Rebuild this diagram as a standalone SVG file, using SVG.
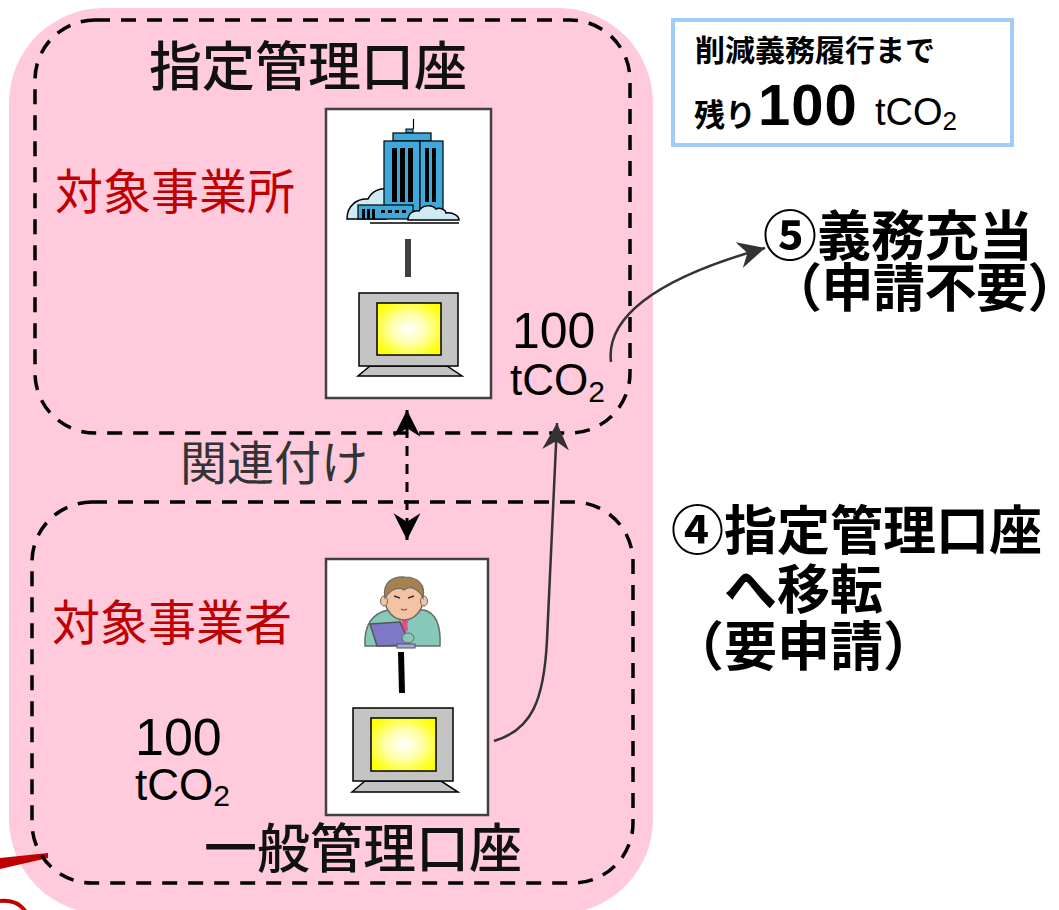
<svg xmlns="http://www.w3.org/2000/svg" width="1059" height="910" viewBox="0 0 1059 910">
  <style>
    .jp { font-family: "Noto Sans CJK JP", "Noto Sans", sans-serif; }
    .num { font-family: "Liberation Sans", Arial, sans-serif; }
    .title { font-size: 53px; fill: #111; font-weight: 500; }
    .red { font-size: 48px; fill: #c00000; }
    .bold { font-weight: 700; fill: #000; }
    .dashbox { fill: none; stroke: #000; stroke-width: 3.5; stroke-dasharray: 15 11; }
    .card { fill: #fff; stroke: #404040; stroke-width: 2.5; }
    .link { stroke-width: 6; }
    .flow { fill: none; stroke: #333; stroke-width: 2.5; }
    .assoc { fill: none; stroke: #000; stroke-width: 3; stroke-dasharray: 10 8; }
    .mon-frame { fill: #c4c4c4; stroke: #000; stroke-width: 1.5; }
    .mon-screen { fill: url(#screenGlow); stroke: #000; stroke-width: 1.5; }
  </style>
  <defs>
    <radialGradient id="screenGlow" cx="0.5" cy="0.5" r="0.6">
      <stop offset="0" stop-color="#ffffff"/>
      <stop offset="0.45" stop-color="#ffffb0"/>
      <stop offset="1" stop-color="#ffff00"/>
    </radialGradient>
    <marker id="headGray" markerUnits="userSpaceOnUse" markerWidth="30" markerHeight="30" viewBox="-26 -14 28 28" refX="0" refY="0" orient="auto">
      <path d="M0,0 L-25,-12.5 L-17,0 L-25,12.5 Z" fill="#333"/>
    </marker>
    <marker id="headBlack" markerUnits="userSpaceOnUse" markerWidth="30" markerHeight="30" viewBox="-26 -14 28 28" refX="0" refY="0" orient="auto-start-reverse">
      <path d="M0,0 L-25,-12.5 L-17,0 L-25,12.5 Z" fill="#000"/>
    </marker>
  </defs>

  <!-- pink backdrop -->
  <rect x="9" y="8" width="644" height="906" rx="95" ry="95" fill="#ffcadb"/>

  <!-- red pointer at lower left -->
  <path d="M0,858 L48,853 L48,858 L0,869 Z" fill="#c00000"/>
  <path d="M0,901 Q17,899 26,912" fill="none" stroke="#c00000" stroke-width="4"/>

  <!-- designated account -->
  <g id="designated-account">
    <rect class="dashbox" x="35" y="20" width="595" height="413" rx="60" ry="60"/>
    <text class="jp title" x="149" y="86">指定管理口座</text>
    <text class="jp red" x="55" y="209">対象事業所</text>
    <rect class="card" x="326" y="109" width="165" height="289"/>
    <!-- office building -->
    <g id="building">
      <path d="M347,219 C347,205 358,198 368,199 C372,191 380,188 386,189 L386,219 Z" fill="#cfeaf5" stroke="#000" stroke-width="1.5"/>
      <line x1="413.5" y1="119" x2="413.5" y2="129" stroke="#000" stroke-width="1.2"/>
      <rect x="406" y="129" width="7" height="4" fill="#3fa9dc" stroke="#000" stroke-width="1"/>
      <rect x="393" y="133" width="38" height="8" fill="#3fa9dc" stroke="#000" stroke-width="1.2"/>
      <rect x="384" y="141" width="36" height="76" fill="#3fa9dc" stroke="#000" stroke-width="1.2"/>
      <rect x="420" y="141" width="23" height="76" fill="#3fa9dc" stroke="#000" stroke-width="1.2"/>
      <g fill="#000">
        <rect x="392" y="148" width="5" height="54"/>
        <rect x="400" y="148" width="5" height="54"/>
        <rect x="408" y="148" width="5" height="54"/>
        <rect x="425" y="148" width="4" height="54"/>
        <rect x="432" y="148" width="4" height="54"/>
      </g>
      <rect x="358" y="205" width="55" height="14" fill="#3fa9dc" stroke="#000" stroke-width="1.2"/>
      <g fill="#000">
        <rect x="362" y="209" width="3" height="10"/>
        <rect x="367" y="209" width="3" height="10"/>
        <rect x="372" y="209" width="3" height="10"/>
        <rect x="381" y="210" width="4" height="3"/>
        <rect x="388" y="210" width="4" height="3"/>
        <rect x="395" y="210" width="4" height="3"/>
        <rect x="402" y="210" width="4" height="3"/>
      </g>
      <path d="M408,220 C408,213 414,210 419,211 C422,205 432,204 436,209 C440,207 446,210 446,213 C453,212 459,216 459,220 Z" fill="#cfeaf5" stroke="#000" stroke-width="1.5"/>
      <line x1="370" y1="223" x2="459" y2="223" stroke="#000" stroke-width="1.5"/>
    </g>
    <line class="link" x1="408" y1="239" x2="408" y2="277" stroke="#404040"/>
    <!-- terminal -->
    <g id="terminal-designated">
      <path class="mon-frame" d="M370,366 L447,366 L462,376 L358,376 Z"/>
      <rect class="mon-frame" x="359" y="293" width="99" height="73"/>
      <rect class="mon-screen" x="377" y="303" width="64" height="52"/>
    </g>
    <text class="num" x="512" y="348" font-size="50" fill="#000">100</text>
    <text class="num" x="510" y="395" font-size="44" fill="#000">tCO<tspan font-size="30" dy="7">2</tspan></text>
  </g>

  <!-- general account -->
  <g id="general-account">
    <rect class="dashbox" x="32" y="502" width="601" height="381" rx="60" ry="60"/>
    <text class="jp title" x="204" y="868">一般管理口座</text>
    <text class="jp red" x="52" y="640">対象事業者</text>
    <rect class="card" x="326" y="559" width="162" height="256"/>
    <!-- business operator -->
    <g id="operator">
      <path d="M365,646 C364,628 370,614 388,610 L424,610 C436,613 441,626 440,646 Z" fill="#86c9b8" stroke="#6a6a6a" stroke-width="1.5"/>
      <path d="M396,611 L404,630 L412,611 Z" fill="#fff6b0" stroke="#6a6a6a" stroke-width="1"/>
      <path d="M402,614 L406,614 L408,630 L404,634 L401,630 Z" fill="#e0508a"/>
      <ellipse cx="404" cy="599" rx="19" ry="21" fill="#f4c3a4" stroke="#6a6a6a" stroke-width="1.5"/>
      <ellipse cx="384" cy="601" rx="3.5" ry="5" fill="#f4c3a4" stroke="#6a6a6a" stroke-width="1"/>
      <ellipse cx="424" cy="601" rx="3.5" ry="5" fill="#f4c3a4" stroke="#6a6a6a" stroke-width="1"/>
      <path d="M385,598 C382,583 392,576 405,577 C418,577 426,585 423,598 C419,589 410,585 404,590 C398,586 390,590 385,598 Z" fill="#a5814f" stroke="#6a6a6a" stroke-width="1.2"/>
      <path d="M394,596 L400,598 M408,598 L414,596" stroke="#333" stroke-width="1.6"/>
      <path d="M401,609 Q404,611 407,609" fill="none" stroke="#7a4a3a" stroke-width="1.2"/>
      <path d="M370,624 L400,622 L410,645 L377,646 Z" fill="#7e78c6" stroke="#555" stroke-width="1.5"/>
      <rect x="397" y="644" width="18" height="4" fill="#a8a8d8" stroke="#555" stroke-width="1"/>
      <ellipse cx="408" cy="638" rx="6" ry="5" fill="#86c9b8" stroke="#6a6a6a" stroke-width="1"/>
    </g>
    <line class="link" x1="401" y1="652" x2="402" y2="693" stroke="#000"/>
    <g id="terminal-general">
      <path class="mon-frame" d="M365,781 L441,781 L458,792 L352,792 Z"/>
      <rect class="mon-frame" x="353" y="708" width="100" height="73"/>
      <rect class="mon-screen" x="371" y="718" width="65" height="53"/>
    </g>
    <text class="num" x="135" y="755" font-size="52" fill="#000">100</text>
    <text class="num" x="135" y="800" font-size="44" fill="#000">tCO<tspan font-size="30" dy="6">2</tspan></text>
  </g>

  <!-- remaining obligation -->
  <g id="remaining">
    <rect x="673" y="20" width="339" height="125" fill="#fff" stroke="#9fcdf5" stroke-width="4"/>
    <text class="jp bold" x="695" y="61" font-size="30">削減義務履行まで</text>
    <text class="jp bold" x="694" y="126" font-size="31">残り</text>
    <text class="num bold" x="758" y="125" font-size="58" letter-spacing="1">100</text>
    <text class="num" x="875" y="125" font-size="38" fill="#000">tCO<tspan font-size="26" dy="5">2</tspan></text>
  </g>

  <!-- step labels -->
  <g id="step5">
    <text class="jp bold" x="763" y="256" font-size="54">⑤義務充当</text>
    <text class="jp bold" x="770" y="307" font-size="52" letter-spacing="-0.5">（申請不要）</text>
  </g>
  <g id="step4">
    <text class="jp bold" x="671" y="550" font-size="53">④指定管理口座</text>
    <text class="jp bold" x="724" y="609" font-size="53">へ移転</text>
    <text class="jp bold" x="671" y="666" font-size="53">（要申請）</text>
  </g>

  <!-- connectors -->
  <g id="connectors">
    <line class="assoc" x1="407" y1="410" x2="407" y2="540" marker-start="url(#headBlack)" marker-end="url(#headBlack)"/>
    <text class="jp" x="180" y="480" font-size="47" fill="#333">関連付け</text>
    <path class="flow" d="M494,741 C532,730 544,700 547,640 C550,560 554,480 557,423" marker-end="url(#headGray)"/>
    <path class="flow" d="M611,362 C606,320 650,280 765,248" marker-end="url(#headGray)"/>
  </g>
</svg>
